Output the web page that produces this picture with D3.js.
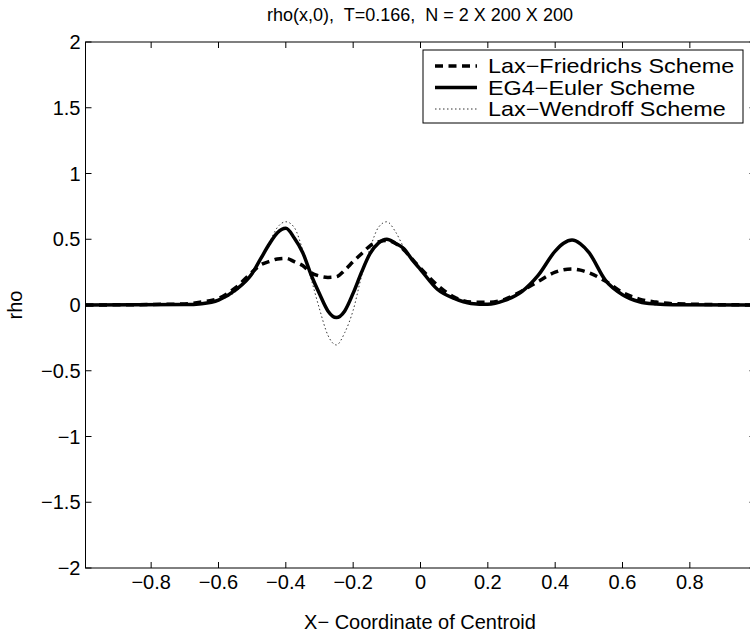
<!DOCTYPE html>
<html><head><meta charset="utf-8">
<script src="https://cdn.jsdelivr.net/npm/d3@7"></script>
<style>body{margin:0;background:#fff}svg{display:block}text{font-family:"Liberation Sans",Arial,sans-serif}</style>
</head><body><svg id="c" width="750" height="638"></svg>
<script>
const xValues = [-0.995,-0.7,-0.65,-0.6,-0.55,-0.5,-0.475,-0.45,-0.425,-0.4,-0.375,-0.35,-0.325,-0.3,-0.275,-0.25,-0.225,-0.2,-0.175,-0.15,-0.125,-0.1,-0.075,-0.05,-0.025,0,0.05,0.1,0.15,0.2,0.25,0.3,0.35,0.4,0.425,0.45,0.475,0.5,0.55,0.6,0.65,0.7,0.75,0.995];
const laxFriedrichs = [0,0.008,0.023,0.05,0.13,0.25,0.305,0.33,0.35,0.355,0.33,0.30,0.245,0.22,0.21,0.215,0.265,0.33,0.39,0.45,0.48,0.49,0.47,0.42,0.35,0.28,0.15,0.06,0.022,0.02,0.043,0.105,0.18,0.25,0.268,0.274,0.265,0.245,0.18,0.095,0.045,0.022,0.01,0];
const eg4Euler = [0,0.003,0.01,0.037,0.113,0.24,0.35,0.46,0.55,0.583,0.51,0.40,0.23,0.085,-0.045,-0.096,-0.045,0.09,0.25,0.39,0.47,0.50,0.47,0.43,0.345,0.27,0.12,0.05,0.012,0.005,0.035,0.10,0.227,0.41,0.47,0.494,0.465,0.40,0.185,0.078,0.025,0.007,0.001,0];
const laxWendroff = [0,0.003,0.01,0.035,0.10,0.24,0.35,0.47,0.59,0.633,0.59,0.42,0.20,-0.03,-0.23,-0.304,-0.21,-0.04,0.22,0.43,0.59,0.633,0.56,0.44,0.34,0.265,0.12,0.05,0.012,0.005,0.035,0.10,0.227,0.41,0.47,0.497,0.465,0.40,0.185,0.078,0.025,0.007,0.001,0];
const xTicks = [-0.8,-0.6,-0.4,-0.2,0,0.2,0.4,0.6,0.8];
const yTicks = [-2,-1.5,-1,-0.5,0,0.5,1,1.5,2];
const seriesNames = ["Lax\u2212Friedrichs Scheme","EG4\u2212Euler Scheme","Lax\u2212Wendroff Scheme"];
const titleText = "rho(x,0),  T=0.166,  N = 2 X 200 X 200";
const xLabel = "X\u2212 Coordinate of Centroid";
const yLabel = "rho";

const svg = d3.select("#c");
const L=85.5, R=755.5, T=42, B=568;
const x = d3.scaleLinear().domain([-0.995,0.995]).range([L,R]);
const y = d3.scaleLinear().domain([-2,2]).range([B,T]);
const fmt = v => (v<0?"\u2212":"") + String(Math.abs(v));

const styles = [
  {w:3.5, dash:"8,5.5", color:"#000"},
  {w:3.5, dash:null, color:"#000"},
  {w:1, dash:"1.5,2.5", color:"#333"}
];
const data = [laxFriedrichs, eg4Euler, laxWendroff];

const g = svg.append("g");
svg.append("clipPath").attr("id","pc").append("rect").attr("x",L).attr("y",T).attr("width",R-L).attr("height",B-T);

const line = d3.line().x((d,i)=>x(xValues[i])).y(d=>y(d)).curve(d3.curveMonotoneX);
[2,0,1].forEach(k=>{
  g.append("path").datum(data[k]).attr("d",line).attr("fill","none")
   .attr("stroke",styles[k].color).attr("stroke-width",styles[k].w)
   .attr("stroke-dasharray",styles[k].dash).attr("stroke-linejoin","round")
   .attr("clip-path","url(#pc)");
});

const ax = g.append("g").attr("stroke","#000").attr("stroke-width",1);
ax.append("rect").attr("x",L).attr("y",T).attr("width",R-L).attr("height",B-T).attr("fill","none");
xTicks.forEach(t=>{
  ax.append("line").attr("x1",x(t)).attr("x2",x(t)).attr("y1",B).attr("y2",B-6);
  ax.append("line").attr("x1",x(t)).attr("x2",x(t)).attr("y1",T).attr("y2",T+6);
});
yTicks.forEach(t=>{
  ax.append("line").attr("x1",L).attr("x2",L+6).attr("y1",y(t)).attr("y2",y(t));
  ax.append("line").attr("x1",R).attr("x2",R-6).attr("y1",y(t)).attr("y2",y(t));
});
const tx = g.append("g").attr("font-size",20).attr("fill","#000");
xTicks.forEach(t=>{
  tx.append("text").attr("x",x(t)).attr("y",B+21).attr("text-anchor","middle").text(fmt(t));
});
yTicks.forEach(t=>{
  tx.append("text").attr("x",L-5).attr("y",y(t)+7).attr("text-anchor","end").text(fmt(t));
});
svg.append("text").attr("x",420).attr("y",21).attr("text-anchor","middle").attr("font-size",18).style("white-space","pre").text(titleText);
svg.append("text").attr("x",420).attr("y",629).attr("text-anchor","middle").attr("font-size",20).text(xLabel);
svg.append("text").attr("transform","translate(22,305) rotate(-90)").attr("text-anchor","middle").attr("font-size",20).text(yLabel);

const lg = svg.append("g");
lg.append("rect").attr("x",423).attr("y",50).attr("width",320).attr("height",73).attr("fill","#fff").attr("stroke","#000").attr("stroke-width",1);
seriesNames.forEach((n,i)=>{
  const yy = 66 + i*21.5;
  lg.append("line").attr("x1",435).attr("x2",477).attr("y1",yy).attr("y2",yy)
    .attr("stroke",styles[i].color).attr("stroke-width",styles[i].w).attr("stroke-dasharray",styles[i].dash);
  lg.append("text").attr("transform",`translate(488,${yy+7}) scale(1.17,1)`).attr("font-size",20).text(n);
});
</script></body></html>
